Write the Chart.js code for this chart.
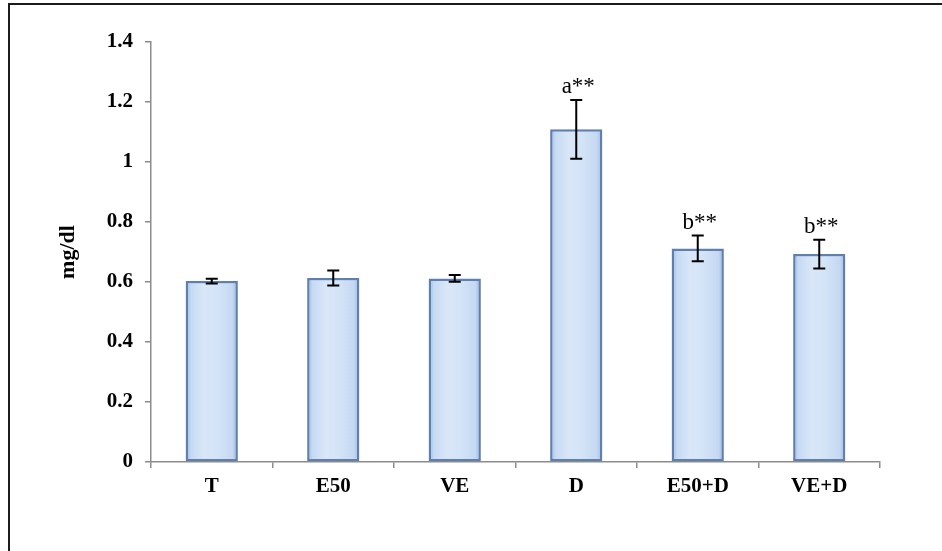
<!DOCTYPE html>
<html>
<head>
<meta charset="utf-8">
<script src="https://cdn.jsdelivr.net/npm/chart.js@4/dist/chart.umd.min.js"></script>
<style>
  html, body { margin: 0; padding: 0; background: #fff; overflow: hidden; }
  #wrap { position: relative; width: 942px; height: 551px; }
  #chart { display: block; }
  #frame {
    position: absolute; left: 8px; top: 3px; right: 0; bottom: 0;
    border-top: 2px solid #1c1c1c; border-left: 2px solid #1c1c1c;
    pointer-events: none;
  }
</style>
</head>
<body>
<div id="wrap">
  <canvas id="chart" width="942" height="551"></canvas>
  <div id="frame"></div>
</div>
<script>
// data
const groups = ['T', 'E50', 'VE', 'D', 'E50+D', 'VE+D'];
const means = [0.603, 0.613, 0.612, 1.109, 0.712, 0.693];
const errors = [0.008, 0.025, 0.011, 0.098, 0.043, 0.048];
const marks = ['', '', '', 'a**', 'b**', 'b**'];
const yTicks = [0, 0.2, 0.4, 0.6, 0.8, 1, 1.2, 1.4];

const serif = "'Liberation Serif', 'Times New Roman', serif";
const axisGrey = '#8c8c8c';

function barFill(context) {
    const chart = context.chart;
    const el = context.element;
    if (!el || !Number.isFinite(el.x) || !Number.isFinite(el.width)) return '#cfe0f5';
    const half = el.width / 2;
    const g = chart.ctx.createLinearGradient(el.x - half, 0, el.x + half, 0);
    g.addColorStop(0, '#93b1de');
    g.addColorStop(0.1, '#c6daf4');
    g.addColorStop(0.35, '#d9e6f8');
    g.addColorStop(0.6, '#d4e4f7');
    g.addColorStop(0.9, '#c5d8f2');
    g.addColorStop(1, '#8fadd9');
    return g;
}

// error bars and significance marks
const errorBars = {
    id: 'errorBars',
    afterDatasetsDraw(chart) {
        const ctx = chart.ctx;
        const yScale = chart.scales.y;
        const meta = chart.getDatasetMeta(0);
        ctx.save();
        ctx.strokeStyle = '#000';
        ctx.lineWidth = 2;
        meta.data.forEach((bar, i) => {
            const x = bar.x;
            const top = yScale.getPixelForValue(means[i] + errors[i]);
            const bot = yScale.getPixelForValue(means[i] - errors[i]);
            ctx.beginPath();
            ctx.moveTo(x, top); ctx.lineTo(x, bot);
            ctx.moveTo(x - 6, top); ctx.lineTo(x + 6, top);
            ctx.moveTo(x - 6, bot); ctx.lineTo(x + 6, bot);
            ctx.stroke();
            if (marks[i]) {
                ctx.fillStyle = '#000';
                ctx.font = '23px ' + serif;
                ctx.textAlign = 'center';
                ctx.textBaseline = 'alphabetic';
                ctx.fillText(marks[i], x + 2, top - 7);
            }
        });
        ctx.restore();
    }
};

const chart = new Chart(document.getElementById('chart'), {
    type: 'bar',
    data: {
        labels: groups,
        datasets: [{
            data: means,
            backgroundColor: barFill,
            borderColor: '#5f7fae',
            borderWidth: 2.5,
            borderSkipped: false,
            barPercentage: 0.43,
            categoryPercentage: 1
        }]
    },
    options: {
        responsive: false,
        animation: false,
        layout: { padding: { top: 42, right: 62, left: 0, bottom: 0 } },
        plugins: { legend: { display: false }, tooltip: { enabled: false } },
        scales: {
            x: {
                afterFit: s => { s.height = 89; },
                grid: { drawOnChartArea: false, color: axisGrey, lineWidth: 1.5, tickLength: 6, offset: true },
                border: { color: axisGrey, width: 1.5 },
                ticks: { color: '#000', padding: 6, font: { family: serif, size: 21, weight: 'bold' } }
            },
            y: {
                min: 0,
                max: 1.4,
                afterFit: s => { s.width = 151; },
                afterBuildTicks: s => { s.ticks = yTicks.map(v => ({ value: v })); },
                grid: { drawOnChartArea: false, color: axisGrey, lineWidth: 1.5, tickLength: 6 },
                border: { color: axisGrey, width: 1.5 },
                ticks: {
                    color: '#000', padding: 12,
                    font: { family: serif, size: 21, weight: 'bold' },
                    callback: v => String(v)
                },
                title: {
                    display: true, text: 'mg/dl', color: '#000',
                    padding: { top: 55 },
                    font: { family: serif, size: 22, weight: 'bold' }
                }
            }
        }
    },
    plugins: [errorBars]
});

// second pass so the bar gradient knows each bar's position
chart.update();
</script>
</body>
</html>
